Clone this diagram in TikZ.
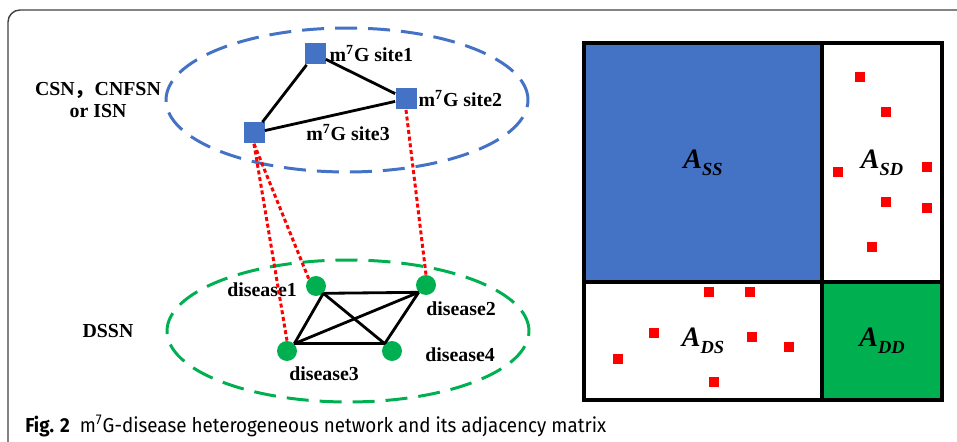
\documentclass[tikz,border=0pt]{standalone}
\usepackage{fontspec}
\setmainfont{Liberation Serif}
\newfontfamily\capfont[FakeStretch=0.93]{Fira Sans}
\newfontfamily\cjkfont{Noto Sans CJK SC}
\usetikzlibrary{shapes}
\usetikzlibrary{positioning}
\definecolor{siteblue}{HTML}{4472C4}
\definecolor{disgreen}{HTML}{00B050}
\newcommand{\mSite}{m\textsuperscript{7}G}
\newcommand{\mBlk}[1]{\textbf{\textit{A\raisebox{-4pt}{\fontsize{10.5}{11}\selectfont #1}}}}
\newcommand{\mEntry}[3]{\node[entry] (#1) at (#2,#3) {}}
\tikzset{
  site/.style={rectangle, fill=siteblue, minimum size=0.42cm, inner sep=0},
  disease/.style={circle, fill=disgreen, minimum size=0.4cm, inner sep=0},
  lbl/.style={font=\fontsize{11.3}{13}\selectfont\bfseries, inner sep=0},
  entry/.style={rectangle, fill=red, minimum size=0.2cm, inner sep=0},
  edge/.style={line width=1.6pt},
  link/.style={red, line width=1.7pt, dash pattern=on 0.8mm off 0.55mm},
  group/.style={line width=1.7pt, dash pattern=on 4.4mm off 2.2mm},
  block/.style={rectangle, draw, line width=1.8pt, inner sep=0, font=\fontsize{16}{18}\selectfont},
}
\begin{document}
\begin{tikzpicture}[x=0.02cm, y=-0.02cm]
    \useasboundingbox (0,0) rectangle (957,442);
    \draw [line width=0.8pt, black!75, rounded corners=2.4mm] (8,442) -- (8,10) -- (957,10);
    \draw [group, siteblue] (347,100) ellipse [x radius=3.62cm, y radius=1.44cm];
    \draw [group, disgreen] (348,331) ellipse [x radius=3.62cm, y radius=1.42cm];
    \node [lbl, align=center] (simnet) at (98,100) {CSN{\cjkfont ，}CNFSN\\or ISN};
    \node [lbl] (dssn) at (108,331) {DSSN};
    \node [site] (s1) at (315,54) {};
    \node [site] (s2) at (406,99) {};
    \node [site] (s3) at (254,133) {};
    \node [lbl, right=0.07cm of s1] (s1lbl) {\mSite{} site1};
    \node [lbl, right=0.03cm of s2] (s2lbl) {\mSite{} site2};
    \node [lbl] (s3lbl) at (348,133) {\mSite{} site3};
    \draw [edge] (s1) -- (s2);
    \draw [edge] (s1) -- (s3);
    \draw [edge] (s3) -- (s2);
    \node [disease] (d1) at (316,286) {};
    \node [disease] (d2) at (426,285) {};
    \node [disease] (d3) at (287,351) {};
    \node [disease] (d4) at (392,351) {};
    \node [lbl] (d1lbl) at (262,290) {disease1};
    \node [lbl] (d2lbl) at (461,309) {disease2};
    \node [lbl] (d3lbl) at (324,374) {disease3};
    \node [lbl] (d4lbl) at (460,355) {disease4};
    \draw [edge] (d1.south east) -- (d2.south west);
    \draw [edge] (d1.south east) -- (d3.north east);
    \draw [edge] (d1.south east) -- (d4.north west);
    \draw [edge] (d2.south west) -- (d3.north east);
    \draw [edge] (d2.south west) -- (d4.north west);
    \draw [edge] (d3.north east) -- (d4.north west);
    \draw [link] (s3.south) -- (d3.north);
    \draw [link] (s3.south) -- (d1.north west);
    \draw [link] (s2.south) -- (d2.north);
    \node [block, fill=siteblue, minimum width=4.76cm, minimum height=4.78cm] (ss) at (703,162.5) {\mBlk{SS}};
    \node [block, minimum width=2.4cm, minimum height=4.78cm] (sd) at (882,162.5) {\mBlk{SD}};
    \node [block, minimum width=4.76cm, minimum height=2.36cm] (ds) at (703,341) {\mBlk{DS}};
    \node [block, fill=disgreen, line width=2.2pt, minimum width=2.4cm, minimum height=2.36cm] (dd) at (882,341) {\mBlk{DD}};
    \mEntry{sd1}{860}{77};
    \mEntry{sd2}{886}{112};
    \mEntry{sd3}{838}{172};
    \mEntry{sd4}{927}{167};
    \mEntry{sd5}{886}{202};
    \mEntry{sd6}{927}{208};
    \mEntry{sd7}{872}{247};
    \mEntry{ds1}{709}{292};
    \mEntry{ds2}{750}{292};
    \mEntry{ds3}{654}{333};
    \mEntry{ds4}{752}{337};
    \mEntry{ds5}{618}{359};
    \mEntry{ds6}{789}{347};
    \mEntry{ds7}{714}{382};
    \node [anchor=base west, inner sep=0, font=\capfont\fontsize{11.5}{13}\selectfont] (cap) at (25,432) {\textbf{Fig. 2}\hspace{0.5em}\mSite-disease heterogeneous network and its adjacency matrix};
\end{tikzpicture}
\end{document}
